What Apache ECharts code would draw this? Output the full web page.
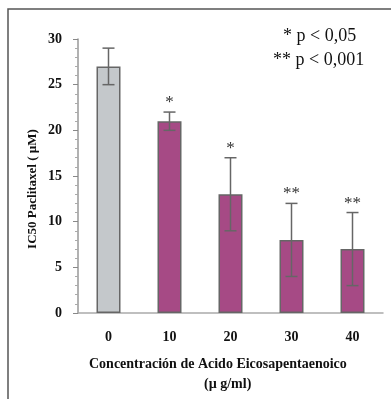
<!DOCTYPE html>
<html>
<head>
<meta charset="utf-8">
<script src="https://cdn.jsdelivr.net/npm/echarts@6/dist/echarts.min.js"></script>
<style>
  html, body { margin: 0; padding: 0; background: #fff; }
  #chart { width: 391px; height: 399px; }
</style>
</head>
<body>
<div id="chart"></div>
<script>
  // datos
  var categories = ['0', '10', '20', '30', '40'];
  var ic50 = [27, 21, 13, 8, 7];
  var errLow = [25, 20, 9, 4, 3];
  var errHigh = [29, 22, 17, 12, 11];
  var signif = ['', '*', '*', '**', '**'];
  var barColors = ['#c4c8cb', '#a64a85', '#a64a85', '#a64a85', '#a64a85'];

  var chart = echarts.init(document.getElementById('chart'));
  var serif = 'Liberation Serif';

  var option = {
    animation: false,
    grid: { left: 78, top: 39, width: 305, height: 274 },
    graphic: [
      {
        type: 'polyline',
        shape: { points: [[8, 399], [8, 9], [391, 9]] },
        style: { stroke: '#555', lineWidth: 1.5, fill: null }
      },
      {
        type: 'text', left: 283, top: 27,
        style: { text: '* p < 0,05', font: '18px ' + serif, fill: '#111' }
      },
      {
        type: 'text', left: 273, top: 51,
        style: { text: '** p < 0,001', font: '18px ' + serif, fill: '#111' }
      },
      {
        type: 'text', left: 89, top: 357,
        style: { text: 'Concentración de Acido Eicosapentaenoico', font: 'bold 14px ' + serif, fill: '#111' }
      },
      {
        type: 'text', left: 204, top: 377,
        style: { text: '(µ g/ml)', font: 'bold 14px ' + serif, fill: '#111' }
      },
      {
        type: 'text', x: 33, y: 189, rotation: Math.PI / 2,
        style: { text: 'IC50 Paclitaxel ( µM)', font: 'bold 13px ' + serif, fill: '#111', align: 'center', verticalAlign: 'middle' }
      }
    ],
    xAxis: {
      type: 'category',
      data: categories,
      axisLine: { lineStyle: { color: '#aaa', width: 1.5 } },
      axisTick: { show: false },
      axisLabel: { margin: 17, color: '#111', fontFamily: serif, fontWeight: 'bold', fontSize: 14 }
    },
    yAxis: {
      type: 'value',
      min: 0, max: 30, interval: 5,
      axisLine: { show: true, lineStyle: { color: '#999', width: 1.5 } },
      axisTick: { show: true, length: 5, lineStyle: { color: '#888' } },
      minorTick: { show: true, splitNumber: 5, length: 3, lineStyle: { color: '#aaa' } },
      splitLine: { show: false },
      axisLabel: { margin: 16, color: '#111', fontFamily: serif, fontWeight: 'bold', fontSize: 14 }
    },
    series: [
      {
        type: 'bar',
        barWidth: 24,
        data: ic50.map(function (v, i) {
          return { value: v, itemStyle: { color: barColors[i] } };
        }),
        itemStyle: { borderColor: '#666', borderWidth: 1.5 }
      },
      {
        type: 'custom',
        data: ic50.map(function (v, i) { return [i, errLow[i], errHigh[i]]; }),
        renderItem: function (params, api) {
          var i = api.value(0);
          var lo = api.coord([i, api.value(1)]);
          var hi = api.coord([i, api.value(2)]);
          var hw = 6;
          var st = { stroke: '#666', lineWidth: 1.5 };
          return {
            type: 'group',
            children: [
              { type: 'line', shape: { x1: hi[0], y1: hi[1], x2: lo[0], y2: lo[1] }, style: st },
              { type: 'line', shape: { x1: hi[0] - hw, y1: hi[1], x2: hi[0] + hw, y2: hi[1] }, style: st },
              { type: 'line', shape: { x1: lo[0] - hw, y1: lo[1], x2: lo[0] + hw, y2: lo[1] }, style: st },
              {
                type: 'text',
                style: {
                  text: signif[params.dataIndex], x: hi[0], y: hi[1] - 1,
                  align: 'center', verticalAlign: 'bottom',
                  font: '17px ' + serif, fill: '#333'
                }
              }
            ]
          };
        },
        z: 5
      }
    ]
  };
  chart.setOption(option);
</script>
</body>
</html>
